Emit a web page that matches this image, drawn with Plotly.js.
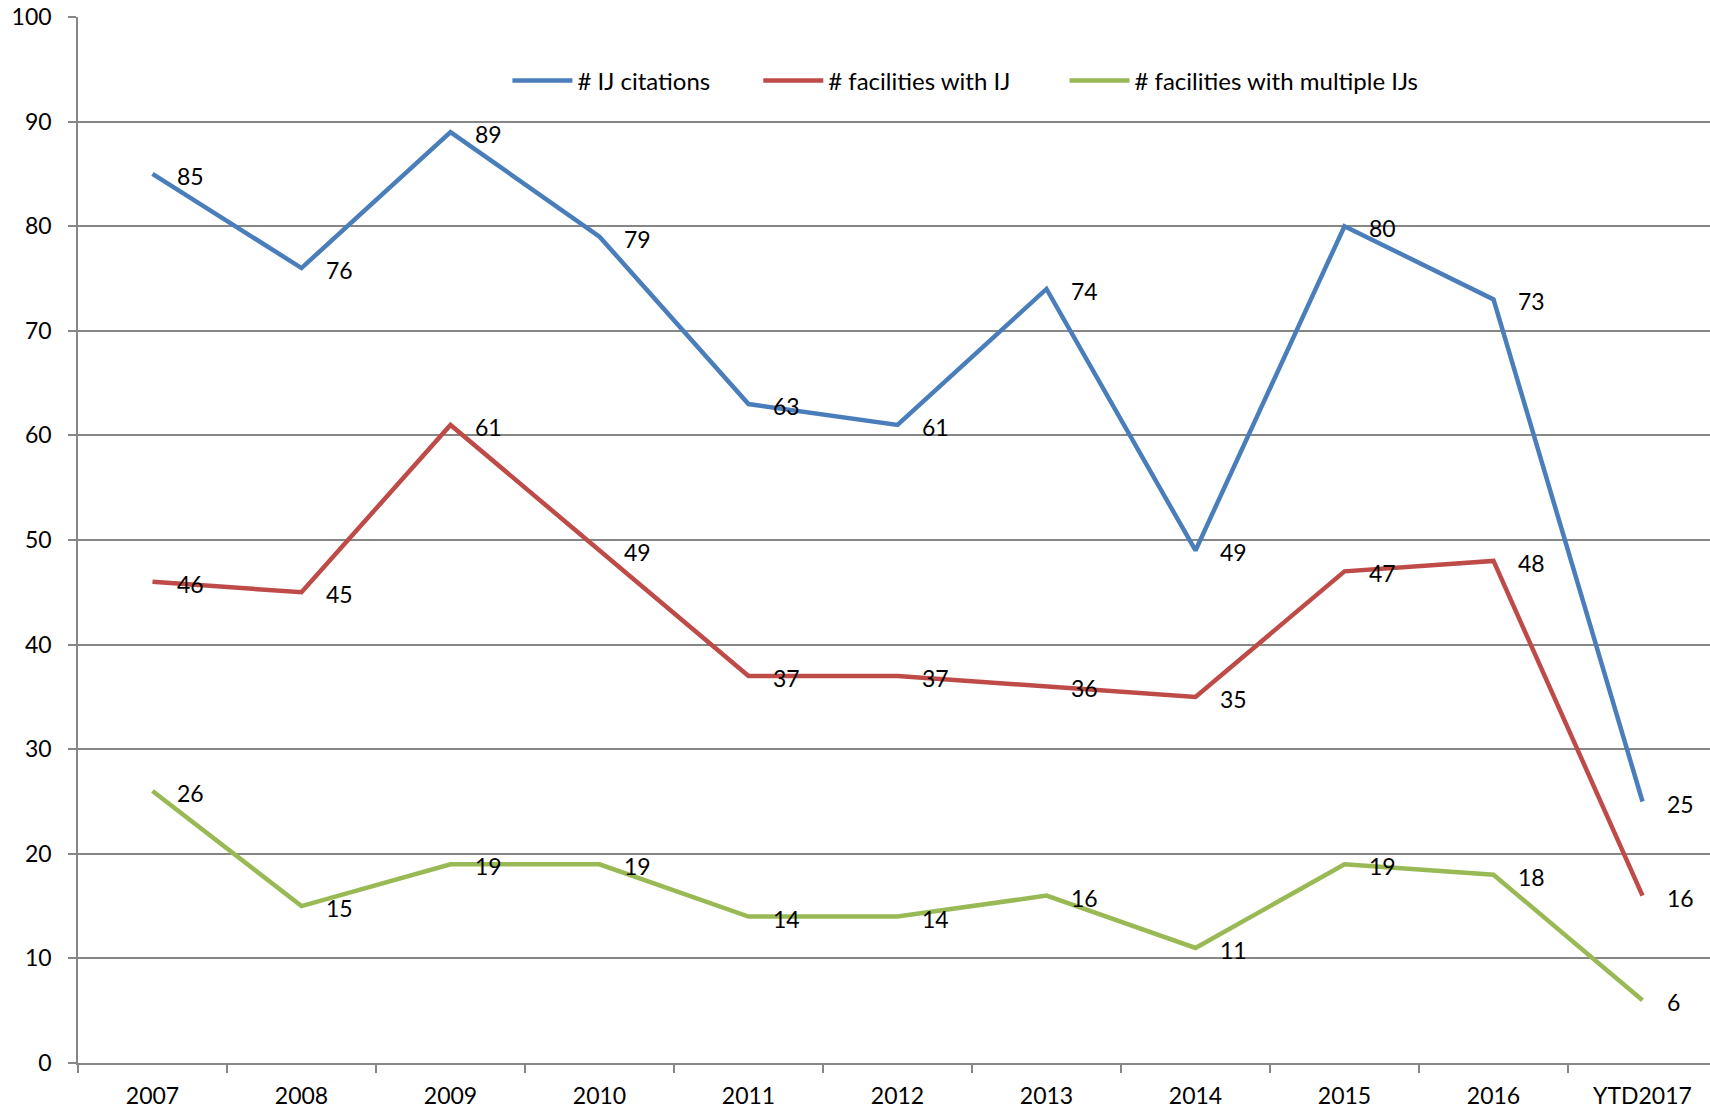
<!DOCTYPE html>
<html>
<head>
<meta charset="utf-8">
<script src="https://cdn.plot.ly/plotly-3.0.1.min.js"></script>
<style>
html,body{margin:0;padding:0;overflow:hidden;background:#fff;}
#chart{width:1717px;height:1111px;}
</style>
</head>
<body>
<div id="chart"></div>
<script>
const categories = ['2007','2008','2009','2010','2011','2012','2013','2014','2015','2016','YTD2017'];
const ijCitations = [85,76,89,79,63,61,74,49,80,73,25];
const facilitiesWithIJ = [46,45,61,49,37,37,36,35,47,48,16];
const facilitiesMultipleIJs = [26,15,19,19,14,14,16,11,19,18,6];
const seriesNames = ['# IJ citations', '# facilities with IJ', '# facilities with multiple IJs'];
const seriesColors = ['#4A7EBB', '#BE4B48', '#98B954'];
const yTicks = [0,10,20,30,40,50,60,70,80,90,100];

const FONT = 'Lato, "Open Sans", sans-serif';
const seriesData = [ijCitations, facilitiesWithIJ, facilitiesMultipleIJs];
const legendPad = [7, 8, 0];

const traces = seriesData.map((vals, i) => ({
  type: 'scatter',
  mode: 'lines',
  x: categories,
  y: vals,
  name: seriesNames[i] + '\u00a0'.repeat(legendPad[i]),
  line: {color: seriesColors[i], width: 4.5},
  cliponaxis: false,
  hoverinfo: 'x+y'
}));

const annotations = [];
seriesData.forEach((vals) => {
  vals.forEach((v, j) => {
    annotations.push({
      x: j, y: v, xref: 'x', yref: 'y',
      text: String(v), showarrow: false,
      xanchor: 'left', yanchor: 'middle',
      xshift: 22, yshift: -2,
      font: {family: FONT, size: 23, color: '#000'}
    });
  });
});

const layout = {
  width: 1717,
  height: 1111,
  margin: {l: 78, r: 0, t: 17, b: 48},
  paper_bgcolor: '#fff',
  plot_bgcolor: '#fff',
  font: {family: FONT, size: 23, color: '#000'},
  showlegend: true,
  legend: {
    orientation: 'h',
    x: 0.262, xanchor: 'left',
    y: 0.939, yanchor: 'middle',
    font: {family: FONT, size: 24, color: '#000'},
    itemwidth: 60,
    bgcolor: 'rgba(0,0,0,0)'
  },
  annotations: annotations,
  xaxis: {
    type: 'category',
    categoryorder: 'array',
    categoryarray: categories,
    tickson: 'boundaries',
    ticks: 'outside',
    ticklen: 8,
    tickcolor: '#868686',
    tickwidth: 1.5,
    showline: true,
    linecolor: '#868686',
    linewidth: 1.5,
    showgrid: false,
    zeroline: false,
    ticklabelstandoff: 12,
    tickfont: {family: FONT, size: 23, color: '#000'},
    range: [-0.5, 10.5],
    fixedrange: true
  },
  yaxis: {
    range: [0, 100],
    tickvals: yTicks,
    ticktext: yTicks.map(String),
    ticks: 'outside',
    ticklen: 8,
    tickcolor: '#868686',
    tickwidth: 1.5,
    showline: true,
    linecolor: '#868686',
    linewidth: 1.5,
    showgrid: true,
    gridcolor: '#868686',
    gridwidth: 1.5,
    zeroline: false,
    ticklabelstandoff: 12,
    tickfont: {family: FONT, size: 23, color: '#000'},
    fixedrange: true
  }
};

Plotly.newPlot('chart', traces, layout, {displayModeBar: false, responsive: false});
</script>
</body>
</html>
